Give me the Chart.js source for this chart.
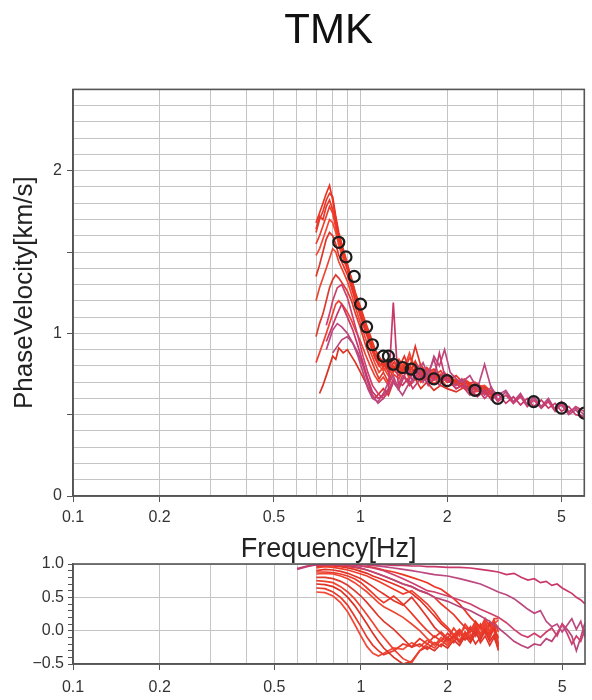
<!DOCTYPE html>
<html>
<head>
<meta charset="utf-8">
<script src="https://cdn.jsdelivr.net/npm/chart.js@4.4.0/dist/chart.umd.min.js"></script>
<style>
    body { margin: 0; background: #fff; width: 592px; height: 700px; position: relative; overflow: hidden; }
    #velChart { position: absolute; left: 0; top: 0; }
    #cohChart { position: absolute; left: 0; top: 540px; }
</style>
</head>
<body>
<canvas id="velChart" width="592" height="564"></canvas>
<canvas id="cohChart" width="592" height="160"></canvas>
<script>
// axis ticks
const freqGrid = [0.1, 0.2, 0.3, 0.4, 0.5, 0.6, 0.7, 0.8, 0.9, 1, 2, 3, 4, 5]
const freqTickLabels = [0.1, 0.2, 0.5, 1, 2, 5]
const velGrid = [0, 0.1, 0.2, 0.3, 0.4, 0.5, 0.6, 0.7, 0.8, 0.9, 1, 1.1, 1.2, 1.3, 1.4, 1.5, 1.6, 1.7, 1.8, 1.9, 2, 2.1, 2.2, 2.3, 2.4, 2.5]
const velTickMarks = [0, 0.5, 1, 1.5, 2]
const velTickLabels = [0, 1, 2]
const cohGrid = [-0.5, -0.4, -0.3, -0.2, -0.1, 0, 0.1, 0.2, 0.3, 0.4, 0.5, 0.6, 0.7, 0.8, 0.9, 1]
const cohTickLabels = [-0.5, 0, 0.5, 1]

// picked phase velocity (circles)
const pickFreq = [0.84, 0.89, 0.95, 1.0, 1.05, 1.1, 1.2, 1.25, 1.3, 1.4, 1.5, 1.6, 1.8, 2.0, 2.5, 3.0, 4.0, 5.0, 6.0]
const pickVel = [1.56, 1.47, 1.35, 1.18, 1.04, 0.93, 0.86, 0.86, 0.81, 0.79, 0.78, 0.75, 0.72, 0.71, 0.65, 0.60, 0.58, 0.54, 0.51]

// phase velocity curves, red group (0.7 - 2.9 Hz)
const freqRed = [0.70, 0.72, 0.74, 0.76, 0.78, 0.80, 0.82, 0.84, 0.87, 0.90, 0.93, 0.96, 1.00, 1.04, 1.08, 1.12, 1.16, 1.20, 1.25, 1.30, 1.36, 1.42, 1.48, 1.55, 1.62, 1.70, 1.80, 1.90, 2.00, 2.15, 2.30, 2.50, 2.70, 2.90]
const velR1 = [1.68, 1.74, 1.80, 1.86, 1.91, 1.82, 1.70, 1.60, 1.50, 1.40, 1.30, 1.20, 1.12, 1.02, 0.95, 0.88, 0.84, 0.81, 0.78, 0.80, 0.76, 0.78, 0.74, 0.79, 0.73, 0.75, 0.72, 0.74, 0.70, 0.71, 0.68, 0.66, 0.64, 0.62]
const velR2 = [1.62, 1.70, 1.75, 1.82, 1.86, 1.84, 1.72, 1.62, 1.52, 1.43, 1.33, 1.24, 1.15, 1.05, 0.97, 0.90, 0.86, 0.80, 0.82, 0.77, 0.80, 0.75, 0.80, 0.76, 0.77, 0.72, 0.74, 0.71, 0.73, 0.69, 0.70, 0.67, 0.65, 0.63]
const velR3 = [1.55, 1.60, 1.66, 1.72, 1.78, 1.74, 1.65, 1.56, 1.48, 1.40, 1.32, 1.22, 1.12, 1.04, 0.95, 0.87, 0.82, 0.79, 0.84, 0.78, 0.82, 0.77, 0.85, 0.80, 0.74, 0.78, 0.73, 0.75, 0.70, 0.72, 0.67, 0.69, 0.64, 0.65]
const velR4 = [1.35, 1.42, 1.50, 1.58, 1.62, 1.60, 1.55, 1.48, 1.42, 1.36, 1.28, 1.20, 1.10, 1.01, 0.93, 0.85, 0.80, 0.82, 0.76, 0.82, 0.79, 0.86, 0.78, 0.92, 0.80, 0.76, 0.78, 0.72, 0.75, 0.70, 0.71, 0.66, 0.67, 0.62]
const velR5 = [1.20, 1.28, 1.34, 1.40, 1.46, 1.52, 1.50, 1.44, 1.38, 1.32, 1.24, 1.16, 1.06, 0.97, 0.89, 0.82, 0.76, 0.79, 0.74, 0.80, 0.76, 0.82, 0.75, 0.78, 0.73, 0.76, 0.71, 0.73, 0.72, 0.68, 0.70, 0.65, 0.66, 0.62]
const velR6 = [0.98, 1.06, 1.12, 1.20, 1.28, 1.33, 1.36, 1.34, 1.30, 1.26, 1.20, 1.12, 1.03, 0.93, 0.85, 0.78, 0.72, 0.76, 0.70, 0.78, 0.74, 0.80, 0.76, 0.83, 0.75, 0.72, 0.76, 0.70, 0.73, 0.69, 0.66, 0.68, 0.63, 0.64]
const velR7 = [0.82, 0.88, 0.94, 1.00, 1.06, 1.12, 1.18, 1.20, 1.17, 1.13, 1.08, 1.02, 0.95, 0.87, 0.80, 0.74, 0.70, 0.73, 0.68, 0.75, 0.72, 0.79, 0.72, 0.77, 0.70, 0.74, 0.69, 0.72, 0.67, 0.70, 0.66, 0.64, 0.65, 0.61]
const velR8 = [null, 0.63, 0.68, 0.74, 0.80, 0.86, 0.84, 0.91, 0.88, 0.90, 0.86, 0.82, 0.76, 0.70, 0.64, 0.60, 0.63, 0.66, 0.62, 0.70, 0.66, 0.74, 0.68, 0.72, 0.66, 0.70, 0.65, 0.68, 0.66, 0.64, 0.67, 0.62, 0.63, 0.60]
const velR9 = [1.64, 1.72, 1.70, 1.78, 1.82, 1.76, 1.68, 1.58, 1.49, 1.41, 1.34, 1.25, 1.16, 1.07, 0.99, 0.91, 0.85, 0.83, 0.79, 0.84, 0.78, 0.81, 0.76, 0.82, 0.75, 0.79, 0.74, 0.77, 0.71, 0.74, 0.69, 0.70, 0.66, 0.64]
const velR10 = [1.48, 1.52, 1.58, 1.64, 1.70, 1.68, 1.62, 1.54, 1.46, 1.39, 1.31, 1.22, 1.13, 1.03, 0.94, 0.86, 0.80, 0.77, 0.81, 0.76, 0.84, 0.79, 0.88, 0.77, 0.81, 0.74, 0.77, 0.72, 0.74, 0.70, 0.72, 0.67, 0.68, 0.63]

// phase velocity curves, pink group (0.76 - 6 Hz)
const freqPink = [0.76, 0.78, 0.80, 0.83, 0.86, 0.90, 0.94, 0.98, 1.02, 1.06, 1.10, 1.15, 1.20, 1.25, 1.30, 1.35, 1.40, 1.46, 1.52, 1.58, 1.65, 1.72, 1.80, 1.88, 1.96, 2.05, 2.15, 2.25, 2.40, 2.55, 2.70, 2.85, 3.00, 3.20, 3.40, 3.60, 3.80, 4.00, 4.25, 4.50, 4.75, 5.00, 5.30, 5.60, 6.00]
const velP1 = [0.95, 1.00, 1.05, 1.12, 1.18, 1.10, 1.02, 0.92, 0.82, 0.72, 0.64, 0.60, 0.62, 0.66, 1.19, 0.70, 0.68, 0.72, 0.66, 0.70, 0.74, 0.68, 0.72, 0.88, 0.74, 0.70, 0.66, 0.68, 0.66, 0.61, 0.65, 0.59, 0.63, 0.57, 0.61, 0.56, 0.60, 0.55, 0.59, 0.54, 0.57, 0.52, 0.55, 0.50, 0.49]
const velP2 = [0.90, 0.96, 1.02, 1.06, 1.04, 1.00, 0.94, 0.86, 0.76, 0.66, 0.60, 0.58, 0.63, 0.70, 0.74, 0.66, 0.72, 0.78, 0.70, 0.76, 0.82, 0.74, 0.86, 0.80, 0.90, 0.76, 0.72, 0.70, 0.74, 0.66, 0.81, 0.66, 0.62, 0.65, 0.58, 0.63, 0.56, 0.61, 0.55, 0.60, 0.53, 0.58, 0.52, 0.54, 0.50]
const velP3 = [1.05, 1.12, 1.20, 1.28, 1.30, 1.22, 1.10, 0.98, 0.86, 0.76, 0.68, 0.63, 0.60, 0.65, 0.72, 0.68, 0.74, 0.70, 0.76, 0.72, 0.78, 0.70, 0.74, 0.68, 0.72, 0.70, 0.66, 0.68, 0.62, 0.66, 0.60, 0.64, 0.58, 0.62, 0.57, 0.61, 0.55, 0.59, 0.54, 0.58, 0.52, 0.57, 0.51, 0.55, 0.52]
const velP4 = [null, null, 0.88, 0.92, 0.96, 0.98, 0.94, 0.88, 0.80, 0.70, 0.62, 0.57, 0.60, 0.64, 0.70, 0.66, 0.62, 0.68, 0.72, 0.80, 0.70, 0.76, 0.84, 0.72, 0.76, 0.70, 0.68, 0.72, 0.64, 0.69, 0.62, 0.67, 0.59, 0.64, 0.57, 0.62, 0.56, 0.61, 0.54, 0.59, 0.53, 0.56, 0.50, 0.53, 0.47]

// coherence curves, red group (0.7 - 3 Hz)
const freqCohRed = [0.70, 0.75, 0.80, 0.85, 0.90, 0.95, 1.00, 1.05, 1.10, 1.15, 1.20, 1.30, 1.40, 1.50, 1.60, 1.70, 1.80, 1.90, 2.00, 2.10, 2.20, 2.30, 2.40, 2.50, 2.60, 2.70, 2.80, 2.90, 3.00]
const cohR1 = [1.00, 1.00, 0.99, 0.99, 0.98, 0.98, 0.97, 0.96, 0.95, 0.93, 0.91, 0.88, 0.84, 0.80, 0.76, 0.72, 0.66, 0.62, 0.55, 0.48, 0.40, 0.30, 0.20, 0.12, 0.05, 0.00, -0.05, 0.02, -0.10]
const cohR2 = [0.98, 0.99, 0.98, 0.97, 0.96, 0.95, 0.93, 0.91, 0.88, 0.85, 0.82, 0.76, 0.70, 0.66, 0.60, 0.56, 0.50, 0.40, 0.32, 0.24, 0.14, 0.05, -0.02, 0.06, -0.10, 0.04, -0.12, 0.08, -0.25]
const cohR3 = [0.94, 0.96, 0.95, 0.93, 0.91, 0.88, 0.85, 0.82, 0.78, 0.74, 0.70, 0.62, 0.55, 0.60, 0.50, 0.40, 0.28, 0.14, 0.05, -0.06, 0.02, -0.10, -0.02, 0.10, -0.05, 0.12, 0.00, 0.15, -0.20]
const cohR4 = [0.90, 0.92, 0.91, 0.89, 0.86, 0.82, 0.78, 0.72, 0.66, 0.60, 0.55, 0.45, 0.38, 0.50, 0.35, 0.20, 0.05, -0.05, -0.15, -0.08, -0.18, -0.05, -0.14, 0.02, -0.18, -0.08, -0.22, -0.10, -0.28]
const cohR5 = [0.85, 0.86, 0.85, 0.82, 0.78, 0.72, 0.65, 0.58, 0.50, 0.42, 0.36, 0.28, 0.20, 0.10, 0.00, -0.12, -0.20, -0.15, -0.22, -0.12, -0.06, 0.05, -0.02, 0.10, 0.02, 0.14, -0.04, 0.18, 0.18]
const cohR6 = [0.80, 0.80, 0.78, 0.74, 0.68, 0.60, 0.52, 0.42, 0.32, 0.22, 0.14, 0.02, -0.12, -0.25, -0.20, -0.28, -0.18, -0.24, -0.10, -0.18, -0.02, -0.12, 0.04, -0.08, 0.08, -0.04, 0.10, 0.00, -0.30]
const cohR7 = [0.75, 0.74, 0.72, 0.66, 0.58, 0.48, 0.36, 0.24, 0.12, 0.00, -0.10, -0.28, -0.42, -0.48, -0.30, -0.20, -0.26, -0.14, -0.22, -0.08, -0.16, -0.02, -0.12, 0.06, -0.06, 0.10, -0.02, 0.12, 0.05]
const cohR8 = [0.70, 0.69, 0.66, 0.60, 0.50, 0.38, 0.24, 0.10, -0.04, -0.16, -0.26, -0.40, -0.50, -0.46, -0.30, -0.24, -0.30, -0.20, -0.26, -0.14, -0.22, -0.08, -0.18, -0.04, -0.14, 0.00, -0.10, 0.04, -0.22]
const cohR9 = [0.64, 0.63, 0.58, 0.50, 0.38, 0.22, 0.06, -0.10, -0.22, -0.30, -0.36, -0.30, -0.20, -0.24, -0.12, -0.20, -0.08, -0.16, -0.04, -0.12, 0.00, -0.10, 0.06, -0.06, 0.10, -0.02, 0.14, 0.02, -0.12]
const cohR10 = [0.58, 0.57, 0.52, 0.42, 0.28, 0.10, -0.08, -0.24, -0.34, -0.38, -0.34, -0.26, -0.28, -0.18, -0.24, -0.14, -0.22, -0.10, -0.18, -0.06, -0.14, -0.02, -0.10, 0.04, -0.06, 0.08, -0.04, 0.10, 0.16]
const cohR11 = [0.96, 0.97, 0.97, 0.96, 0.94, 0.92, 0.89, 0.86, 0.82, 0.79, 0.76, 0.70, 0.64, 0.56, 0.46, 0.34, 0.22, 0.10, 0.02, -0.08, -0.02, -0.14, -0.06, -0.20, -0.10, -0.02, -0.16, -0.06, -0.24]
const cohR12 = [0.88, 0.88, 0.87, 0.85, 0.82, 0.78, 0.72, 0.64, 0.56, 0.48, 0.42, 0.52, 0.40, 0.26, 0.12, 0.00, -0.10, -0.02, -0.12, 0.04, -0.08, 0.10, 0.00, 0.14, 0.04, 0.18, 0.06, 0.16, -0.02]

// coherence curves, pink group (0.6 - 6 Hz)
const freqCohPink = [0.60, 0.65, 0.70, 0.80, 0.90, 1.00, 1.10, 1.20, 1.30, 1.40, 1.50, 1.60, 1.70, 1.80, 2.00, 2.20, 2.40, 2.60, 2.80, 3.00, 3.20, 3.40, 3.60, 3.80, 4.00, 4.20, 4.40, 4.60, 4.80, 5.00, 5.20, 5.40, 5.60, 5.80, 6.00]
const cohP1 = [0.93, 0.97, 0.99, 1.00, 1.00, 1.00, 0.99, 0.99, 0.98, 0.98, 0.97, 0.97, 0.96, 0.96, 0.95, 0.95, 0.94, 0.92, 0.90, 0.88, 0.84, 0.86, 0.80, 0.76, 0.78, 0.72, 0.74, 0.68, 0.70, 0.64, 0.60, 0.56, 0.50, 0.46, 0.40]
const cohP2 = [0.92, 0.96, 0.99, 1.00, 1.00, 0.99, 0.98, 0.96, 0.94, 0.92, 0.90, 0.88, 0.86, 0.84, 0.82, 0.78, 0.74, 0.70, 0.64, 0.58, 0.54, 0.48, 0.40, 0.32, 0.26, 0.30, 0.14, 0.06, 0.10, -0.02, 0.08, 0.18, 0.02, 0.14, -0.10]
const cohP3 = [null, null, 0.98, 0.99, 0.99, 0.97, 0.94, 0.90, 0.84, 0.78, 0.72, 0.66, 0.60, 0.58, 0.52, 0.46, 0.40, 0.32, 0.26, 0.20, 0.12, 0.02, -0.06, -0.10, -0.04, -0.10, -0.02, 0.04, -0.08, 0.10, -0.04, -0.20, -0.08, -0.16, 0.02]
const cohP4 = [null, null, 0.99, 0.99, 0.98, 0.94, 0.88, 0.82, 0.76, 0.70, 0.66, 0.60, 0.56, 0.50, 0.44, 0.36, 0.30, 0.22, 0.14, 0.04, -0.06, -0.16, -0.22, -0.26, -0.20, -0.22, -0.12, -0.16, -0.04, 0.10, 0.02, -0.08, -0.30, -0.10, 0.12]

const redColors = ["#ec3324", "#e63a2a", "#f03e2c", "#e2352a", "#ee4632", "#de3a2e", "#f04030", "#dc3224", "#e8382a", "#f24a36", "#e33026", "#ef3a2a"]
const pinkColors = ["#c8386a", "#bd4880", "#cf3f6c", "#b9467a"]

const FONT = "'Liberation Sans', Arial, sans-serif"
const GRID = "#c4c4c4"
const AXIS = "#555"

function toPoints(xs, ys) {
    let pts = []
    xs.forEach((x, i) => {
        if (ys[i] !== null) pts.push({ x: x, y: ys[i] })
    })
    return pts
}

function lineSet(xs, ys, color) {
    return {
        type: "line",
        data: toPoints(xs, ys),
        borderColor: color,
        borderWidth: 1.7,
        pointRadius: 0,
        tension: 0,
        fill: false
    }
}

// frame around the plot area
const frame = {
    id: "frame",
    afterDatasetsDraw(chart) {
        const a = chart.chartArea
        const ctx = chart.ctx
        ctx.save()
        ctx.strokeStyle = AXIS
        ctx.lineWidth = 1.6
        ctx.strokeRect(a.left, a.top, a.right - a.left, a.bottom - a.top)
        ctx.restore()
    }
}

function freqAxis(showTitle) {
    return {
        type: "logarithmic",
        min: 0.1,
        max: 6,
        afterBuildTicks: s => { s.ticks = freqGrid.map(v => ({ value: v })) },
        afterFit: s => { s.height = showTitle ? 68 : 36 },
        ticks: {
            autoSkip: false,
            maxRotation: 0,
            padding: showTitle ? 6 : 8,
            color: "#333",
            font: { family: FONT, size: 16 },
            callback: v => freqTickLabels.includes(v) ? String(v) : ""
        },
        grid: {
            color: GRID,
            lineWidth: 1,
            tickLength: 6,
            tickColor: c => freqTickLabels.includes(c.tick.value) ? AXIS : "rgba(0,0,0,0)"
        },
        border: { color: AXIS, width: 1.6 },
        title: {
            display: showTitle,
            text: "Frequency[Hz]",
            color: "#222",
            font: { family: FONT, size: 27, lineHeight: 1 },
            padding: { top: 0, bottom: 1 }
        }
    }
}

let velSets = []
velSets.push({
    type: "scatter",
    data: toPoints(pickFreq, pickVel),
    pointRadius: 5.5,
    pointBorderWidth: 2.2,
    pointBorderColor: "#1c1c1c",
    pointBackgroundColor: "rgba(0,0,0,0)",
    showLine: false
})
;[velP1, velP2, velP3, velP4].forEach((ys, i) => velSets.push(lineSet(freqPink, ys, pinkColors[i])))
;[velR1, velR2, velR3, velR4, velR5, velR6, velR7, velR8, velR9, velR10].forEach((ys, i) => velSets.push(lineSet(freqRed, ys, redColors[i])))

new Chart(document.getElementById("velChart"), {
    data: { datasets: velSets },
    options: {
        responsive: false,
        animation: false,
        layout: { padding: { left: 0, right: 7, top: 0, bottom: 0 } },
        plugins: {
            legend: { display: false },
            tooltip: { enabled: false },
            title: {
                display: true,
                text: "TMK",
                fullSize: false,
                color: "#111",
                font: { family: FONT, size: 42, weight: "normal", lineHeight: 1.2 },
                padding: { top: 6, bottom: 33 }
            }
        },
        scales: {
            x: freqAxis(true),
            y: {
                type: "linear",
                min: 0,
                max: 2.5,
                afterBuildTicks: s => { s.ticks = velGrid.map(v => ({ value: v })) },
                afterFit: s => { s.width = 73 },
                ticks: {
                    autoSkip: false,
                    padding: 5,
                    color: "#333",
                    font: { family: FONT, size: 16 },
                    callback: v => velTickLabels.includes(v) ? String(v) : ""
                },
                grid: {
                    color: GRID,
                    lineWidth: 1,
                    tickLength: 6,
                    tickColor: c => velTickMarks.includes(c.tick.value) ? AXIS : "rgba(0,0,0,0)"
                },
                border: { color: AXIS, width: 1.6 },
                title: {
                    display: true,
                    text: "PhaseVelocity[km/s]",
                    color: "#222",
                    font: { family: FONT, size: 26, lineHeight: 1.2 },
                    padding: { top: 9, bottom: 0 }
                }
            }
        }
    },
    plugins: [frame]
})

let cohSets = []
;[cohP1, cohP2, cohP3, cohP4].forEach((ys, i) => cohSets.push(lineSet(freqCohPink, ys, pinkColors[i])))
;[cohR1, cohR2, cohR3, cohR4, cohR5, cohR6, cohR7, cohR8, cohR9, cohR10, cohR11, cohR12].forEach((ys, i) => cohSets.push(lineSet(freqCohRed, ys, redColors[i])))

new Chart(document.getElementById("cohChart"), {
    data: { datasets: cohSets },
    options: {
        responsive: false,
        animation: false,
        layout: { padding: { left: 0, right: 7, top: 24, bottom: 0 } },
        plugins: { legend: { display: false }, tooltip: { enabled: false } },
        scales: {
            x: freqAxis(false),
            y: {
                type: "linear",
                min: -0.5,
                max: 1,
                afterBuildTicks: s => { s.ticks = cohGrid.map(v => ({ value: v })) },
                afterFit: s => { s.width = 73 },
                ticks: {
                    autoSkip: false,
                    padding: 4,
                    color: "#333",
                    font: { family: FONT, size: 16 },
                    callback: v => cohTickLabels.includes(v) ? v.toFixed(1).replace("-", "\u2212") : ""
                },
                grid: {
                    color: c => cohTickLabels.includes(c.tick.value) ? GRID : "rgba(0,0,0,0)",
                    lineWidth: 1,
                    tickLength: 5,
                    tickColor: AXIS
                },
                border: { color: AXIS, width: 1.6 }
            }
        }
    },
    plugins: [frame]
})
</script>
</body>
</html>
